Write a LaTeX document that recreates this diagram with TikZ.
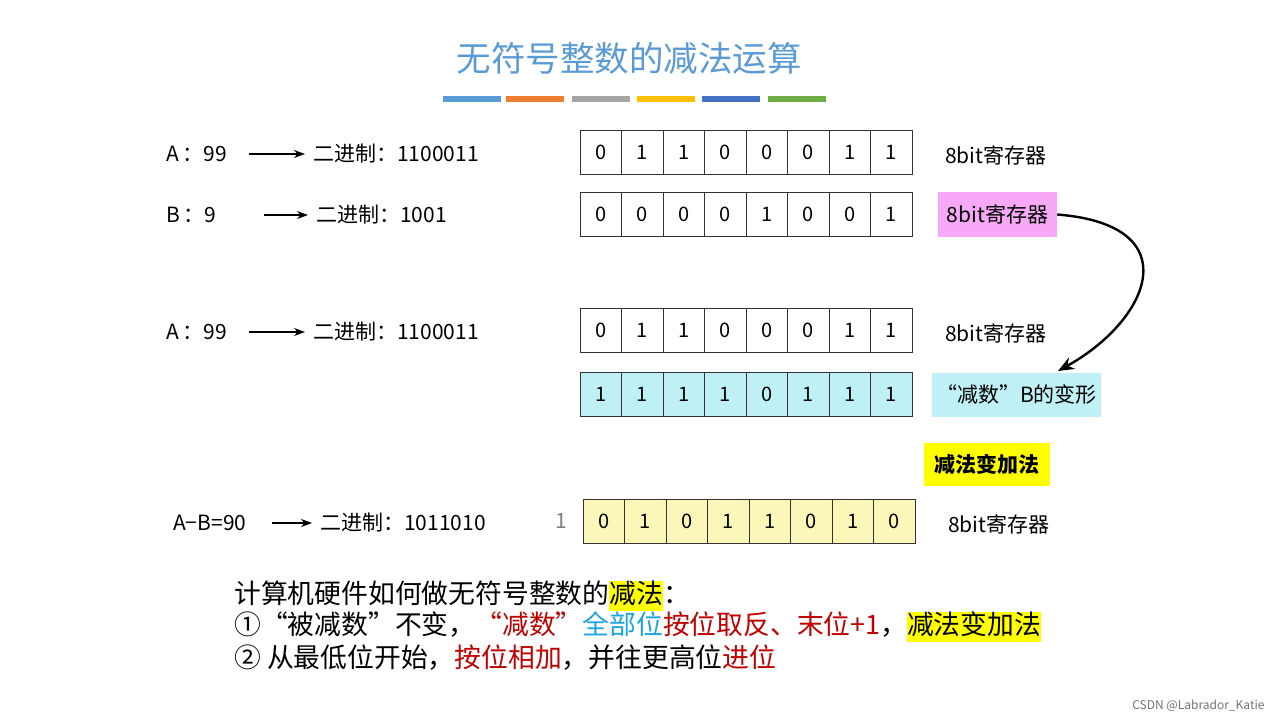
\documentclass[tikz,border=0pt]{standalone}
\usepackage{fontspec}
\setmainfont{Noto Sans CJK SC}
\usetikzlibrary{arrows.meta}
\definecolor{ttl}{HTML}{5B9BD5}
\definecolor{cb}{HTML}{BFF0F5}
\definecolor{cy}{HTML}{FBF7B8}
\definecolor{pk}{HTML}{F7A9F7}
\definecolor{hy}{HTML}{FFFF00}
\definecolor{rd}{HTML}{C00000}
\definecolor{bl}{HTML}{1BA5E0}
\tikzset{cell/.style={draw=black!80,minimum width=41.5pt,minimum height=44pt,inner sep=0,font=\fontsize{20}{20}\selectfont},
lbl/.style={anchor=west,inner sep=0,font=\fontsize{21}{21}\selectfont},
arr/.style={-{Stealth[length=11pt,width=8pt]},line width=1.1pt},
hl/.style={inner sep=0,anchor=center,font=\fontsize{21}{21}\selectfont}}
\begin{document}
\begin{tikzpicture}[x=1pt,y=-1pt]
\useasboundingbox (0,0) rectangle (1280,719);
\fill[white] (0,0) rectangle (1280,719);
\node[text=ttl,font=\fontsize{34.5}{34.5}\selectfont] (title) at (629,58) {无符号整数的减法运算};
\foreach \a/\c in {443/5B9BD5,506/ED7D31,572/A5A5A5,637/FFC000,702/4472C4,768/70AD47}{
  \definecolor{barc}{HTML}{\c}
  \fill[barc] (\a,96) rectangle ++(58,6);}
% rows
\foreach \r/\y/\bits/\f in {r1/152.5/{0,1,1,0,0,0,1,1}/white, r2/214/{0,0,0,0,1,0,0,1}/white, r3/330.5/{0,1,1,0,0,0,1,1}/white, r4/394/{1,1,1,1,0,1,1,1}/cb}{
  \foreach \b [count=\i] in \bits
    \node[cell,fill=\f] (\r c\i) at (580+20.75+41.5*\i-41.5,\y) {\b};
}
\foreach \b [count=\i] in {0,1,0,1,1,0,1,0}
  \node[cell,fill=cy] (r5c\i) at (583+20.75+41.5*\i-41.5,521.5) {\b};
% left labels
\node[lbl] (a1) at (166,154) {A\,：99};
\node[lbl] (b1) at (313,154) {二进制：1100011};
\draw[arr] (249,154) -- ([xshift=-8pt]b1.west);
\node[lbl] (a2) at (166,215) {B\,：9};
\node[lbl] (b2) at (316,215) {二进制：1001};
\draw[arr] (264,215) -- ([xshift=-8pt]b2.west);
\node[lbl] (a3) at (166,332) {A\,：99};
\node[lbl] (b3) at (313,332) {二进制：1100011};
\draw[arr] (249,332) -- ([xshift=-8pt]b3.west);
\node[lbl] (a5) at (173,523) {A−B=90};
\node[lbl] (b5) at (320,523) {二进制：1011010};
\draw[arr] (272,523) -- ([xshift=-8pt]b5.west);
\node[lbl,text=black!50] (carry) at (555,521) {1};
% right labels
\node[lbl] (l1) at (945,155) {8bit寄存器};
\node[hl,fill=pk,minimum width=119pt,minimum height=45pt] (l2) at (997.5,214.5) {8bit寄存器};
\node[lbl] (l3) at (945,333) {8bit寄存器};
\node[hl,fill=cb,minimum width=169pt,minimum height=44pt] (l4) at (1016.5,394.5) {“减数”B的变形};
\node[hl,fill=hy,minimum width=126pt,minimum height=43pt] (l6) at (987,464.5) {\textbf{减法变加法}};
\node[lbl] (l5) at (948,524) {8bit寄存器};
\draw[-{Stealth[length=16pt,width=13pt]},line width=2.4pt] (l2.east) .. controls (1190,225) and (1150,320) .. (1058,371);
% bottom text
\begin{scope}[every node/.style={lbl,font=\fontsize{26.8}{26.8}\selectfont}]
\node (t1) at (234,596) {计算机硬件如何做无符号整数的{\setlength\fboxsep{0pt}\colorbox{hy}{\strut 减法}}：};
\node (t2) at (234,627) {①“被减数”不变，\textcolor{rd}{“减数”}\textcolor{bl}{全部位}\textcolor{rd}{按位取反、末位+1}，{\setlength\fboxsep{0pt}\colorbox{hy}{\strut 减法变加法}}};
\node (t3) at (234,658) {② 从最低位开始，\textcolor{rd}{按位相加}，并往更高位\textcolor{rd}{进位}};
\end{scope}
\node[anchor=east,text=black!55,font=\fontsize{12}{12}\selectfont] (wm) at (1268,706) {CSDN @Labrador\_Katie};
\end{tikzpicture}
\end{document}
